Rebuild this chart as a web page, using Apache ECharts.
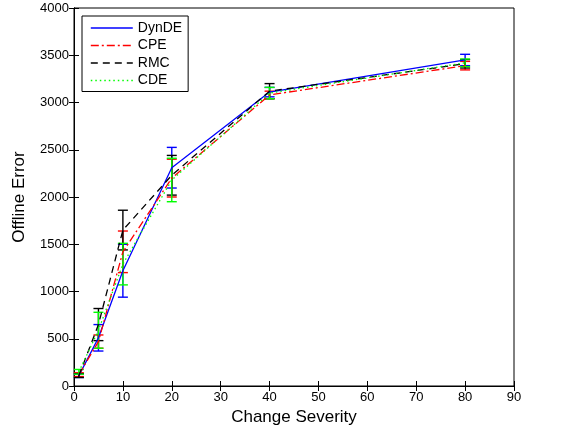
<!DOCTYPE html>
<html>
<head>
<meta charset="utf-8">
<script src="https://cdn.jsdelivr.net/npm/echarts@6/dist/echarts.min.js"></script>
<style>html,body{margin:0;padding:0;background:#fff}#c{width:561px;height:435px}</style>
</head>
<body>
<div id="c"></div>
<script>
var severity = [1, 5, 10, 20, 40, 80];
var dynde    = [110, 510, 1220, 2310, 3110, 3450];
var dyndeErr = [20, 140, 280, 215, 50, 60];
var cpe      = [120, 470, 1420, 2200, 3080, 3390];
var cpeErr   = [20, 70, 220, 200, 40, 45];
var rmc      = [110, 650, 1650, 2230, 3120, 3410];
var rmcErr   = [20, 170, 210, 210, 80, 45];
var cde      = [150, 590, 1290, 2180, 3100, 3420];
var cdeErr   = [25, 190, 220, 230, 60, 40];
var xTicks = [0, 90, 10];
var yTicks = [0, 4000, 500];

var FONT = 'Liberation Sans, Arial, sans-serif';
var STY = {
  DynDE: {color: '#0000ff', type: 'solid'},
  CPE:   {color: '#ff0000', type: [8, 3, 2, 3]},
  RMC:   {color: '#000000', type: [7, 5]},
  CDE:   {color: '#00ff00', type: [1.5, 3]}
};
function pts(ys){ return severity.map(function(x,i){ return [x, ys[i]]; }); }
function ebData(ys, es){ return severity.map(function(x,i){ return [x, ys[i], es[i]]; }); }
function errSeries(name, ys, es){
  var color = STY[name].color;
  return {
    type: 'custom', name: name + ' err', z: 3,
    data: ebData(ys, es),
    encode: {x: 0, y: 1},
    renderItem: function(params, api){
      var x = api.value(0), m = api.value(1), e = api.value(2);
      var top = api.coord([x, m + e]);
      var bot = api.coord([x, m - e]);
      var hw = 5;
      var st = {stroke: color, lineWidth: 1.4};
      return {type: 'group', children: [
        {type: 'line', shape: {x1: top[0], y1: top[1], x2: bot[0], y2: bot[1]}, style: st},
        {type: 'line', shape: {x1: top[0]-hw, y1: top[1], x2: top[0]+hw, y2: top[1]}, style: st},
        {type: 'line', shape: {x1: bot[0]-hw, y1: bot[1], x2: bot[0]+hw, y2: bot[1]}, style: st}
      ]};
    }
  };
}
function lineSeries(name, ys){
  var s = STY[name];
  return {
    type: 'line', name: name, data: pts(ys), symbol: 'none', z: 4, color: s.color,
    lineStyle: {color: s.color, width: 1.3, type: s.type},
    itemStyle: {color: s.color}
  };
}
function legendItem(name){
  var s = STY[name];
  return {name: name, itemStyle: {opacity: 0}, lineStyle: {color: s.color, width: 1.6, type: s.type, opacity: 1}};
}
var chart = echarts.init(document.getElementById('c'), null, {renderer: 'canvas'});
chart.setOption({
  animation: false,
  backgroundColor: '#fff',
  grid: {left: 74, right: 47, top: 8, bottom: 49, show: true, borderColor: '#000', borderWidth: 1, backgroundColor: 'transparent'},
  legend: {
    data: ['DynDE', 'CPE', 'RMC', 'CDE'].map(legendItem),
    orient: 'vertical', left: 82, top: 16,
    itemWidth: 42, itemHeight: 14, itemGap: 3.5,
    backgroundColor: '#fff', borderColor: '#000', borderWidth: 1, borderRadius: 0,
    padding: [5, 6, 4, 8],
    textStyle: {fontFamily: FONT, fontSize: 14, color: '#000'}
  },
  xAxis: [{
    type: 'value', min: xTicks[0], max: xTicks[1], interval: xTicks[2],
    name: 'Change Severity', nameLocation: 'middle', nameGap: 21,
    nameTextStyle: {fontFamily: FONT, fontSize: 17, color: '#000'},
    axisLine: {show: true, onZero: false, lineStyle: {color: '#000'}},
    axisTick: {inside: true, length: 5, lineStyle: {color: '#000'}},
    axisLabel: {fontFamily: FONT, fontSize: 13, color: '#000', margin: 5},
    splitLine: {show: false}
  }, {
    type: 'value', position: 'top', min: xTicks[0], max: xTicks[1], interval: xTicks[2],
    axisLine: {show: true, lineStyle: {color: '#000'}},
    axisTick: {show: true, inside: true, length: 5, lineStyle: {color: '#000'}},
    axisLabel: {show: false}, splitLine: {show: false}
  }],
  yAxis: [{
    type: 'value', min: yTicks[0], max: yTicks[1], interval: yTicks[2],
    name: 'Offline Error', nameLocation: 'middle', nameGap: 46,
    nameTextStyle: {fontFamily: FONT, fontSize: 17, color: '#000'},
    axisLine: {show: true, onZero: false, lineStyle: {color: '#000'}},
    axisTick: {inside: true, length: 5, lineStyle: {color: '#000'}},
    axisLabel: {fontFamily: FONT, fontSize: 13, color: '#000', margin: 5, formatter: function(v){ return String(v); }},
    splitLine: {show: false}
  }, {
    type: 'value', position: 'right', min: yTicks[0], max: yTicks[1], interval: yTicks[2],
    axisLine: {show: true, lineStyle: {color: '#000'}},
    axisTick: {show: true, inside: true, length: 5, lineStyle: {color: '#000'}},
    axisLabel: {show: false}, splitLine: {show: false}
  }],
  series: [
    errSeries('DynDE', dynde, dyndeErr),
    errSeries('CPE', cpe, cpeErr),
    errSeries('RMC', rmc, rmcErr),
    errSeries('CDE', cde, cdeErr),
    lineSeries('DynDE', dynde),
    lineSeries('CPE', cpe),
    lineSeries('RMC', rmc),
    lineSeries('CDE', cde)
  ]
});
</script>
</body>
</html>
